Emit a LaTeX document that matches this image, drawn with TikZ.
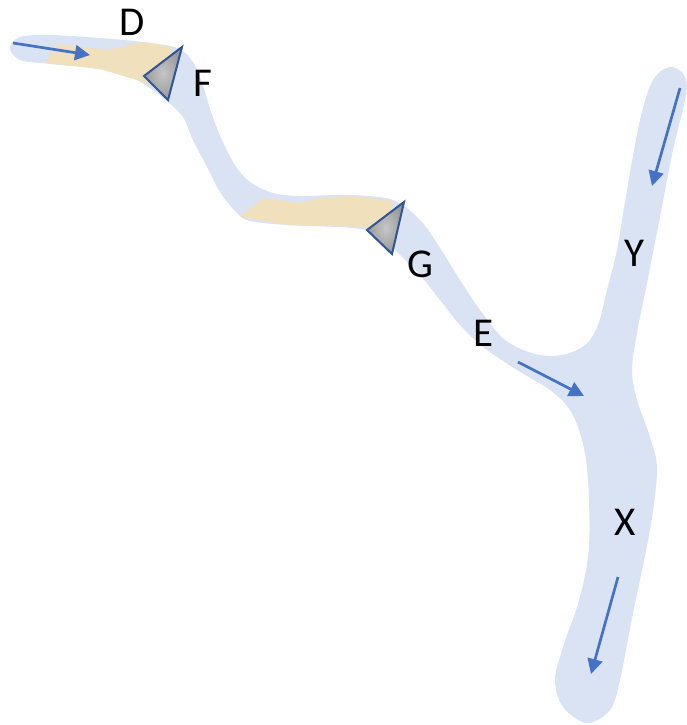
\documentclass[tikz,border=0pt]{standalone}
\usepackage{fontspec}
\setmainfont{Carlito}
\usetikzlibrary{arrows.meta}
\definecolor{riverblue}{HTML}{DAE3F3}
\definecolor{sand}{HTML}{F1E0BC}
\definecolor{flowblue}{HTML}{4472C4}
\definecolor{rockline}{HTML}{2F5597}
\begin{document}
\begin{tikzpicture}[x=1pt,y=-1pt,
  flow/.style={draw=flowblue,line width=2.7pt,-{Triangle[length=15pt,width=15pt]}},
  rock/.style={draw=rockline,line width=2pt,inner color=gray!45,outer color=gray!80},
  lbl/.style={font=\fontsize{41}{41}\selectfont}]
  \useasboundingbox (0,0) rectangle (687,725);
  % river with the side branch Y
  \fill[riverblue] plot[smooth cycle,tension=0.55] coordinates {
    (10,48) (20,37) (50,35) (100,38) (143,42) (177,48) (193,62) (203,86)
    (212,115) (222,140) (235,165) (250,182) (273,193) (300,196) (350,195)
    (393,200) (420,220) (440,248) (460,280) (480,310) (505,340) (535,354)
    (562,355) (585,345) (598,325) (607,290) (617,250) (627,190) (640,120)
    (653,80) (670,67) (684,75) (686,95) (673,150) (660,217) (647,283)
    (637,333) (632,370) (637,400) (650,437) (657,470) (650,530) (633,613)
    (620,680) (610,710) (587,723) (563,707) (555,680) (563,647) (580,597)
    (589,547) (588,480) (582,440) (570,410) (550,390) (517,370) (483,347)
    (460,325) (440,300) (420,275) (400,255) (380,235) (353,228) (287,225)
    (250,221) (237,213) (220,192) (207,167) (193,140) (183,117) (168,102)
    (150,88) (130,77) (100,69) (50,64) (20,60)};
  % sand bars
  \fill[sand,rounded corners=2pt] (45,63) -- (57,44) -- (108,50) -- (143,42)
    -- (172,47) -- (165,90) -- (140,81) -- (100,69) -- cycle;
  \fill[sand,rounded corners=2pt] (240,217) -- (263,198) -- (300,203)
    -- (320,198) -- (353,196) -- (393,201) -- (390,217) -- (370,227)
    -- (287,225) -- cycle;
  % rocks
  \foreach \ax/\ay/\bx/\by/\cx/\cy in {182/47/144/76/168/100, 404/202/367/230/392/254} {
    \shadedraw[rock,line join=miter] (\ax,\ay) -- (\bx,\by) -- (\cx,\cy) -- cycle;
  }
  % flow directions
  \draw[flow] (13,43) -- (90,55);
  \draw[flow] (680,88) -- (652,186);
  \draw[flow] (518,362) -- (584,396);
  \draw[flow] (618,577) -- (591,674);
  % labels
  \draw (132,22)  node[lbl] (D) {D};
  \draw (203,83)  node[lbl] (F) {F};
  \draw (420,264) node[lbl] (G) {G};
  \draw (484,333) node[lbl] (E) {E};
  \draw (634,253) node[lbl] (Y) {Y};
  \draw (625,522) node[lbl] (X) {X};
\end{tikzpicture}
\end{document}
